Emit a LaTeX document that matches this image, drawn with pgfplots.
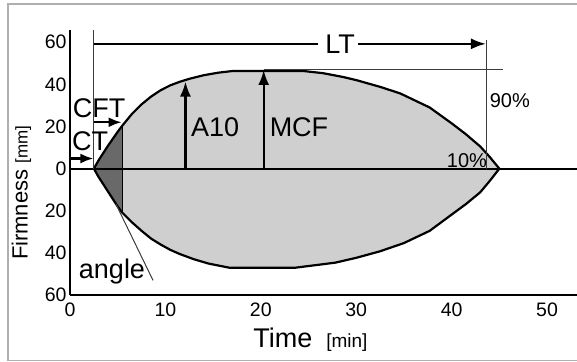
\documentclass[border=0pt]{standalone}
\usepackage{fontspec}
\setmainfont{Liberation Sans}
\usepackage{pgfplots}
\pgfplotsset{compat=1.18}
\usetikzlibrary{arrows.meta}

\definecolor{lfill}{RGB}{207,207,207}
\definecolor{dfill}{RGB}{105,105,105}
\definecolor{thinc}{RGB}{60,60,60}
\definecolor{framec}{RGB}{175,175,175}

\begin{document}
\begin{tikzpicture}
\begin{axis}[
  scale only axis, width=507pt, height=265pt,
  xmin=0, xmax=53.14, ymin=-60, ymax=65.7,
  axis x line=bottom, axis y line=left,
  axis line style={line width=2pt, -},
  xtick={0,10,20,30,40,50},
  ytick={-60,-40,-20,0,20,40,60},
  yticklabels={60,40,20,0,20,40,60},
  major tick length=0pt,
  tick label style={font=\fontsize{19.5}{21}\selectfont},
  /pgf/number format/assume math mode=true,
  xticklabel style={yshift=-4pt},
  yticklabel style={xshift=0pt},
  clip=false,
]
% frame and bounding coordinates
\draw[framec, line width=1.5pt] (axis cs:53.14,78.1) -- (axis cs:-6.5,78.1) -- (axis cs:-6.5,-90.9) -- (axis cs:53.14,-90.9);
\coordinate (bbl) at (axis cs:-7.34,-91.4);
\coordinate (btr) at (axis cs:53.14,80);

% light shape
\addplot[fill=lfill, draw=none] coordinates {
(2.5,0)(3,4)(4,11)(5,17.5)(5.5,20.5)(6.5,26)(7.5,30.5)(8.5,34.2)(9.5,37.2)(10.5,39.5)(11.5,41.2)(12.5,42.6)(14,44.3)(15.5,45.5)(17,46.3)(24.5,46.3)(26.5,45.3)(28.6,43.5)(30,42)(32.5,38.8)(34.6,35.7)(37.7,29)(40,21.5)(41.5,16.3)(43,10.5)(44,5.5)(45,0)
(44,-5.8)(43,-11.2)(41.5,-16.8)(40,-21.8)(37.7,-29.5)(35,-35.3)(32.5,-39.2)(30,-42.3)(27.8,-44.6)(23.6,-47)(16.7,-47)(14.5,-45)(13,-43)(11.5,-40.5)(10.5,-38.5)(9.5,-36)(8.5,-33.2)(7.5,-29.5)(6.5,-25.5)(5.5,-21)(5,-18)(4,-11)(3,-4)(2.5,0)
};
% dark triangle
\addplot[fill=dfill, draw=none] coordinates {
(2.5,0)(3,4)(4,11)(5,17.5)(5.5,20.5)(5.5,-21)(5,-18)(4,-11)(3,-4)(2.5,0)
};
% outline
\addplot[black, line width=2.2pt, line join=round] coordinates {
(2.5,0)(3,4)(4,11)(5,17.5)(5.5,20.5)(6.5,26)(7.5,30.5)(8.5,34.2)(9.5,37.2)(10.5,39.5)(11.5,41.2)(12.5,42.6)(14,44.3)(15.5,45.5)(17,46.3)(24.5,46.3)(26.5,45.3)(28.6,43.5)(30,42)(32.5,38.8)(34.6,35.7)(37.7,29)(40,21.5)(41.5,16.3)(43,10.5)(44,5.5)(45,0)
(44,-5.8)(43,-11.2)(41.5,-16.8)(40,-21.8)(37.7,-29.5)(35,-35.3)(32.5,-39.2)(30,-42.3)(27.8,-44.6)(23.6,-47)(16.7,-47)(14.5,-45)(13,-43)(11.5,-40.5)(10.5,-38.5)(9.5,-36)(8.5,-33.2)(7.5,-29.5)(6.5,-25.5)(5.5,-21)(5,-18)(4,-11)(3,-4)(2.5,0)
};
% zero line
\addplot[black, line width=2pt] coordinates {(0,0)(53.14,0)};
% vertical line at CFT end
\addplot[black, line width=1.3pt] coordinates {(5.5,20.5)(5.5,-21)};
% thin guide lines
\addplot[thinc, line width=1pt] coordinates {(2.5,65.7)(2.5,0)};
\addplot[thinc, line width=1pt] coordinates {(43.7,61)(43.7,0)};
\addplot[thinc, line width=1pt] coordinates {(20.3,47.1)(45.4,47.1)};
\addplot[thinc, line width=1pt] coordinates {(4.8,-16.7)(8.7,-53)};
% arrows
\addplot[black, line width=2.2pt, -{Latex[length=15pt,width=11pt]}] coordinates {(12.1,0)(12.1,41.3)};
\addplot[black, line width=2.2pt, -{Latex[length=15pt,width=11pt]}] coordinates {(20.3,0)(20.3,46.8)};
\addplot[black, line width=2.2pt, -{Latex[length=13pt,width=10pt]}] coordinates {(0,4.8)(2.45,4.8)};
\addplot[black, line width=2.2pt, -{Latex[length=13pt,width=10pt]}] coordinates {(2.5,22)(5.4,22)};
\addplot[black, line width=2.2pt] coordinates {(2.5,59.2)(26.0,59.2)};
\addplot[black, line width=2.2pt, -{Latex[length=15pt,width=11pt]}] coordinates {(30.2,59.2)(43.6,59.2)};
% texts
\node at (axis cs:28.3,58.8) {\fontsize{27}{30}\selectfont LT};
\node at (axis cs:2.1,12.9) {\fontsize{27}{30}\selectfont CT};
\node at (axis cs:3.05,28.8) {\fontsize{27}{30}\selectfont CFT};
\node at (axis cs:15.2,19.5) {\fontsize{27}{30}\selectfont A10};
\node at (axis cs:24.0,19.5) {\fontsize{27}{30}\selectfont MCF};
\node at (axis cs:46.1,32.4) {\fontsize{20}{22}\selectfont 90\%};
\node at (axis cs:41.6,4.0) {\fontsize{20}{22}\selectfont 10\%};
\node[anchor=base] at (axis cs:4.4,-52) {\fontsize{27}{30}\selectfont angle};
\node[rotate=90] at (axis cs:-5.1,-11.5) {\fontsize{22}{24}\selectfont Firmness\hspace{6pt}{\fontsize{17}{19}\selectfont [mm]}};
\node[anchor=base] at (axis cs:25.2,-85) {\fontsize{27}{30}\selectfont Time\hspace{14pt}{\fontsize{19}{21}\selectfont [min]}};
\end{axis}
\pgfresetboundingbox
\path (bbl) rectangle (btr);
\end{tikzpicture}
\end{document}
